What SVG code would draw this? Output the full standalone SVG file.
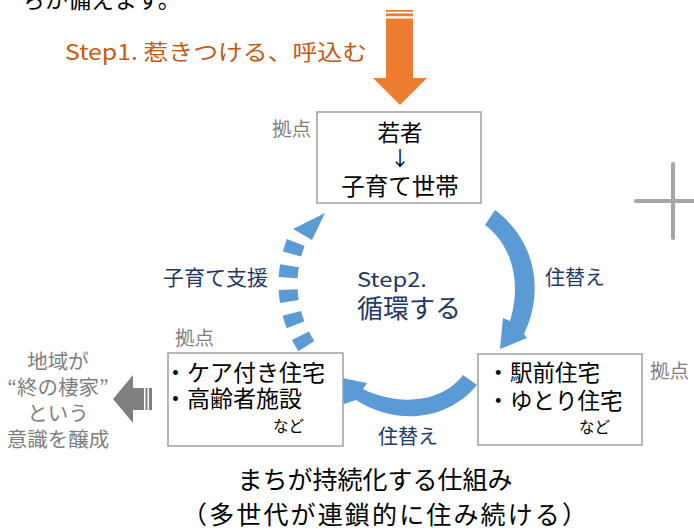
<svg xmlns="http://www.w3.org/2000/svg" width="694" height="532" viewBox="0 0 694 532">
<style>
text{font-family:"Noto Sans CJK JP","Noto Sans",sans-serif;}
.box{fill:#fff;stroke:#a0a0a0;stroke-width:1.5;}
.blk{fill:#000;}
.gray{fill:#7f7f7f;font-size:19.5px;}
.navy{fill:#1f3864;}
.blue{fill:#5b9bd5;}
.mid{text-anchor:middle;}
</style>
<rect width="694" height="532" fill="#fff"/>
<text x="22" y="8" font-size="23" class="blk">ちが備えます。</text>
<text x="65" y="60" font-size="21.5" fill="#c55a11" textLength="302" lengthAdjust="spacingAndGlyphs">Step1. 惹きつける、呼込む</text>
<g id="orange-arrow" fill="#ed7d31">
<rect x="386" y="10" width="27" height="1.8"/>
<rect x="386" y="13.4" width="27" height="2.8"/>
<rect x="386" y="18.5" width="27" height="60"/>
<polygon points="373,78 427,78 400,105"/>
</g>
<g id="plus" stroke="#a6a6a6" stroke-width="4" stroke-linecap="round" fill="none">
<line x1="636" y1="201" x2="700" y2="201"/>
<line x1="673" y1="164" x2="673" y2="238"/>
</g>
<g id="connectors">
<path class="blue" d="M495,210 C535,240 545,290 524,334 L527,338 L500,349 L503,318 L510,321 C522,283 512,245 485,225 Z"/>
<path class="blue" d="M477,385 C450,418 400,428 356,400 L344,404 L337,377 L367,383 L363,389 C395,405 440,405 463,375 Z"/>
<path d="M306.4,346.1 A114,114 0 0 1 300.4,232.2" fill="none" stroke="#5b9bd5" stroke-width="19" stroke-dasharray="12 12"/>
<polygon class="blue" points="293,229 312,240 325,213"/>
<g id="gray-arrow" fill="#7f7f7f">
<polygon points="113,399 133,375 133,388 144,388 144,410 133,410 133,423"/>
<rect x="145.5" y="388" width="2" height="22"/>
<rect x="149" y="388" width="3" height="22"/>
</g>
</g>
<g id="node-top">
<rect class="box" x="317" y="112" width="164" height="91"/>
<text class="blk mid" x="400" y="141" font-size="22.5">若者</text>
<text class="blk mid" x="400" y="166" font-size="20">↓</text>
<text class="blk mid" x="400" y="195" font-size="23.5">子育て世帯</text>
<text class="gray" x="272" y="136">拠点</text>
</g>
<g id="node-right">
<rect class="box" x="478" y="354" width="164" height="91"/>
<text class="blk" y="381" font-size="22.5"><tspan x="487">・</tspan><tspan x="510">駅前住宅</tspan></text>
<text class="blk" y="409" font-size="22.5"><tspan x="487">・</tspan><tspan x="510">ゆとり住宅</tspan></text>
<text class="blk" x="579" y="433" font-size="15.5">など</text>
<text class="gray" x="650" y="378">拠点</text>
</g>
<g id="node-left">
<rect class="box" x="168" y="353" width="175" height="93"/>
<text class="blk" y="381" font-size="23"><tspan x="164">・</tspan><tspan x="187">ケア付き住宅</tspan></text>
<text class="blk" y="407" font-size="23"><tspan x="164">・</tspan><tspan x="187">高齢者施設</tspan></text>
<text class="blk" x="273" y="432" font-size="15.5">など</text>
<text class="gray" x="175" y="345">拠点</text>
</g>
<g id="labels">
<text class="navy" x="357" y="287" font-size="20.5" textLength="70" lengthAdjust="spacingAndGlyphs">Step2.</text>
<text class="navy" x="357" y="318" font-size="26">循環する</text>
<text class="navy" x="545" y="285" font-size="20">住替え</text>
<text class="navy" x="378" y="444" font-size="20">住替え</text>
<text class="navy" x="163" y="285" font-size="21">子育て支援</text>
</g>
<g id="left-note" fill="#7f7f7f" font-size="20.5" text-anchor="middle">
<text x="58" y="369">地域が</text>
<text x="58" y="395">“終の棲家”</text>
<text x="58" y="421">という</text>
<text x="58" y="447">意識を醸成</text>
</g>
<g id="footer" fill="#000">
<text x="375" y="489" font-size="25" text-anchor="middle">まちが持続化する仕組み</text>
<text x="182" y="524" font-size="25" textLength="405" lengthAdjust="spacing">（多世代が連鎖的に住み続ける）</text>
</g>
</svg>
